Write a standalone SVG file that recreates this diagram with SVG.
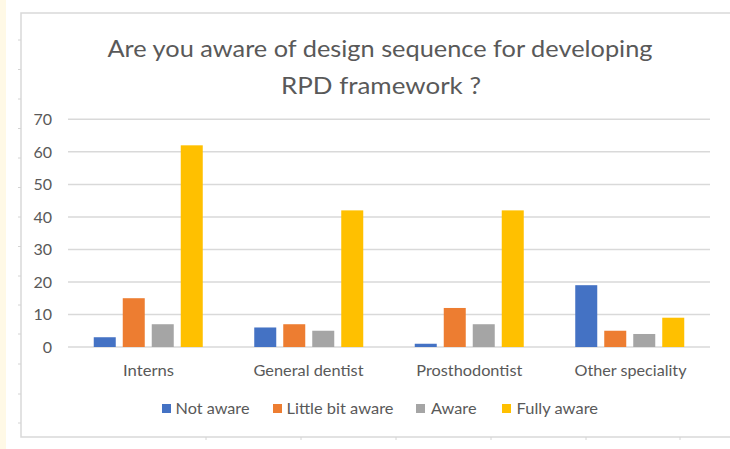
<svg xmlns="http://www.w3.org/2000/svg" width="730" height="449" viewBox="0 0 730 449">
  <style>
    .txt { font-family: Lato, "Open Sans", "Liberation Sans", sans-serif; fill: #595959; }
    .title { font-size: 24px; }
    .axis { font-size: 16px; text-anchor: end; }
    .cat { font-size: 16px; text-anchor: middle; }
    .leg { font-size: 16px; }
    .grid { stroke: #d9d9d9; stroke-width: 1.5; fill: none; }
    .frame { stroke: #d9d9d9; stroke-width: 1.5; fill: none; }
    .tick { stroke: #d4d4d4; stroke-width: 1; }
    .s1 { fill: #4472C4; }
    .s2 { fill: #ED7D31; }
    .s3 { fill: #A5A5A5; }
    .s4 { fill: #FFC000; }
  </style>

  <!-- page background -->
  <rect x="0" y="0" width="730" height="449" fill="#ffffff"/>
  <rect x="0" y="0" width="6" height="449" fill="#FFF9E6"/>

  <!-- chart frame -->
  <g id="frame">
    <polyline class="frame" points="730,13 21,13 21,437 730,437"/>
    <g class="tick">
      <line x1="18" y1="40" x2="21" y2="40"/>
      <line x1="18" y1="69.5" x2="21" y2="69.5"/>
      <line x1="18" y1="99" x2="21" y2="99"/>
      <line x1="18" y1="128.5" x2="21" y2="128.5"/>
      <line x1="18" y1="158" x2="21" y2="158"/>
      <line x1="18" y1="187.5" x2="21" y2="187.5"/>
      <line x1="18" y1="217" x2="21" y2="217"/>
      <line x1="18" y1="246.5" x2="21" y2="246.5"/>
      <line x1="18" y1="276" x2="21" y2="276"/>
      <line x1="18" y1="305" x2="21" y2="305"/>
      <line x1="18" y1="334" x2="21" y2="334"/>
      <line x1="18" y1="364" x2="21" y2="364"/>
      <line x1="18" y1="394" x2="21" y2="394"/>
      <line x1="18" y1="423" x2="21" y2="423"/>
      <line x1="206" y1="437" x2="206" y2="440"/>
      <line x1="301" y1="437" x2="301" y2="440"/>
      <line x1="396" y1="437" x2="396" y2="440"/>
      <line x1="491" y1="437" x2="491" y2="440"/>
      <line x1="586" y1="437" x2="586" y2="440"/>
      <line x1="680" y1="437" x2="680" y2="440"/>
    </g>
  </g>

  <!-- title -->
  <g id="title" class="txt title">
    <text x="380" y="57" text-anchor="middle" textLength="545" lengthAdjust="spacingAndGlyphs">Are you aware of design sequence for developing</text>
    <text x="381" y="94" text-anchor="middle" textLength="200" lengthAdjust="spacingAndGlyphs">RPD framework ?</text>
  </g>

  <!-- gridlines -->
  <g id="gridlines" class="grid">
    <line x1="68" y1="119.3" x2="710" y2="119.3"/>
    <line x1="68" y1="151.8" x2="710" y2="151.8"/>
    <line x1="68" y1="184.4" x2="710" y2="184.4"/>
    <line x1="68" y1="216.9" x2="710" y2="216.9"/>
    <line x1="68" y1="249.4" x2="710" y2="249.4"/>
    <line x1="68" y1="281.9" x2="710" y2="281.9"/>
    <line x1="68" y1="314.5" x2="710" y2="314.5"/>
    <line x1="68" y1="347" x2="710" y2="347"/>
  </g>

  <!-- value axis -->
  <g id="value-axis" class="txt axis">
    <text x="52" y="125">70</text>
    <text x="52" y="157.5">60</text>
    <text x="52" y="190">50</text>
    <text x="52" y="222.5">40</text>
    <text x="52" y="255">30</text>
    <text x="52" y="287.5">20</text>
    <text x="52" y="320">10</text>
    <text x="52" y="352.5">0</text>
  </g>

  <!-- bars per category -->
  <g id="interns">
    <rect class="s1" x="93.75" y="337.24" width="22" height="9.76"/>
    <rect class="s2" x="122.75" y="298.21" width="22" height="48.79"/>
    <rect class="s3" x="151.75" y="324.23" width="22" height="22.77"/>
    <rect class="s4" x="180.75" y="145.32" width="22" height="201.68"/>
    <text class="txt cat" x="148.5" y="376" textLength="51" lengthAdjust="spacingAndGlyphs">Interns</text>
  </g>
  <g id="general-dentist">
    <rect class="s1" x="254.25" y="327.48" width="22" height="19.52"/>
    <rect class="s2" x="283.25" y="324.23" width="22" height="22.77"/>
    <rect class="s3" x="312.25" y="330.74" width="22" height="16.26"/>
    <rect class="s4" x="341.25" y="210.38" width="22" height="136.62"/>
    <text class="txt cat" x="308.5" y="376" textLength="110" lengthAdjust="spacingAndGlyphs">General dentist</text>
  </g>
  <g id="prosthodontist">
    <rect class="s1" x="414.75" y="343.75" width="22" height="3.25"/>
    <rect class="s2" x="443.75" y="307.97" width="22" height="39.03"/>
    <rect class="s3" x="472.75" y="324.23" width="22" height="22.77"/>
    <rect class="s4" x="501.75" y="210.38" width="22" height="136.62"/>
    <text class="txt cat" x="469.3" y="376" textLength="106" lengthAdjust="spacingAndGlyphs">Prosthodontist</text>
  </g>
  <g id="other-speciality">
    <rect class="s1" x="575.25" y="285.19" width="22" height="61.81"/>
    <rect class="s2" x="604.25" y="330.74" width="22" height="16.26"/>
    <rect class="s3" x="633.25" y="333.99" width="22" height="13.01"/>
    <rect class="s4" x="662.25" y="317.72" width="22" height="29.28"/>
    <text class="txt cat" x="630.5" y="376" textLength="112" lengthAdjust="spacingAndGlyphs">Other speciality</text>
  </g>

  <!-- legend -->
  <g id="legend" class="txt leg">
    <rect class="s1" x="162" y="404" width="9" height="9"/>
    <text x="175.5" y="414" textLength="74" lengthAdjust="spacingAndGlyphs">Not aware</text>
    <rect class="s2" x="273" y="404" width="9" height="9"/>
    <text x="286.5" y="414" textLength="107" lengthAdjust="spacingAndGlyphs">Little bit aware</text>
    <rect class="s3" x="416" y="404" width="9" height="9"/>
    <text x="431" y="414" textLength="45.5" lengthAdjust="spacingAndGlyphs">Aware</text>
    <rect class="s4" x="502" y="404" width="9" height="9"/>
    <text x="516.5" y="414" textLength="81.5" lengthAdjust="spacingAndGlyphs">Fully aware</text>
  </g>
</svg>
